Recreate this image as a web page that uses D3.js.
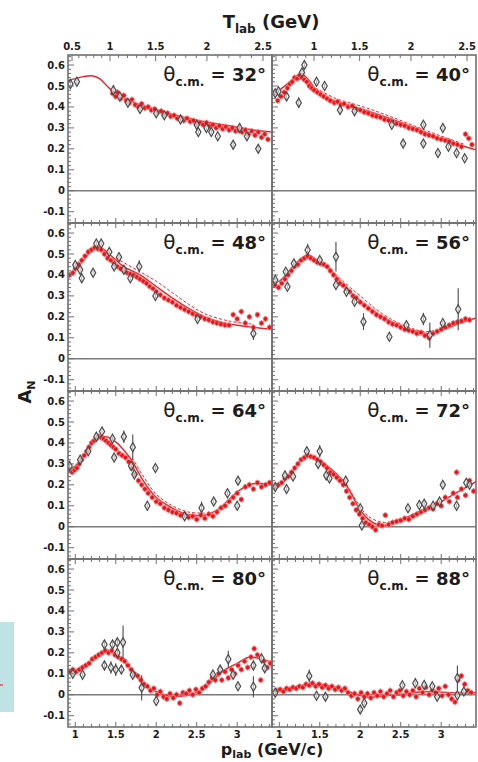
<!DOCTYPE html>
<html>
<head>
<meta charset="utf-8">
<script src="https://cdn.jsdelivr.net/npm/d3@7"></script>
<style>
  body { margin: 0; background: #fff; }
  text { font-family: "DejaVu Sans", sans-serif; font-weight: bold; fill: #1c1c1c; }
</style>
</head>
<body>
<div id="chart"></div>
<script>
// angles of the eight panels
var angles = [32, 40, 48, 56, 64, 72, 80, 88];

// tick labels
var yTickLabels = [0.6, 0.5, 0.4, 0.3, 0.2, 0.1, 0, -0.1];
var pTickLabels = [1, 1.5, 2, 2.5, 3];
var tTickLabels = [0.5, 1, 1.5, 2, 2.5];

// red data (p_lab, A_N), shared error
var redErr = 0.015;
var red32 = [[1.46,0.465],[1.50,0.45],[1.52,0.47],[1.56,0.44],[1.60,0.455],[1.63,0.43],[1.67,0.42],[1.70,0.435],[1.74,0.41],[1.78,0.40],[1.82,0.415],[1.86,0.395],[1.90,0.40],[1.94,0.385],[1.98,0.39],[2.02,0.375],[2.06,0.38],[2.10,0.365],[2.14,0.37],[2.18,0.355],[2.22,0.36],[2.26,0.345],[2.30,0.35],[2.34,0.335],[2.38,0.345],[2.42,0.33],[2.46,0.335],[2.50,0.32],[2.54,0.325],[2.58,0.315],[2.62,0.325],[2.66,0.31],[2.70,0.315],[2.74,0.30],[2.78,0.31],[2.82,0.295],[2.86,0.305],[2.90,0.29],[2.94,0.30],[2.98,0.285],[3.02,0.29],[3.06,0.28],[3.10,0.29],[3.14,0.27],[3.18,0.285],[3.22,0.265],[3.26,0.28],[3.30,0.255],[3.34,0.27],[3.38,0.245]];
var red40 = [[0.98,0.43],[1.02,0.45],[1.06,0.47],[1.10,0.49],[1.13,0.51],[1.16,0.52],[1.19,0.54],[1.22,0.535],[1.25,0.55],[1.28,0.54],[1.31,0.53],[1.34,0.52],[1.37,0.50],[1.40,0.49],[1.43,0.48],[1.47,0.47],[1.51,0.46],[1.55,0.45],[1.59,0.44],[1.63,0.43],[1.68,0.42],[1.72,0.425],[1.76,0.41],[1.80,0.415],[1.85,0.40],[1.90,0.405],[1.95,0.39],[2.00,0.385],[2.05,0.375],[2.10,0.37],[2.15,0.36],[2.20,0.355],[2.25,0.35],[2.30,0.34],[2.35,0.335],[2.40,0.33],[2.45,0.32],[2.50,0.315],[2.55,0.31],[2.60,0.30],[2.65,0.295],[2.70,0.29],[2.75,0.28],[2.80,0.27],[2.85,0.265],[2.90,0.26],[2.95,0.25],[3.00,0.245],[3.05,0.24],[3.10,0.235],[3.15,0.225],[3.20,0.22],[3.25,0.21],[3.30,0.27],[3.34,0.25],[3.38,0.22]];
var red48 = [[0.93,0.40],[0.97,0.41],[1.00,0.43],[1.04,0.45],[1.08,0.47],[1.12,0.49],[1.16,0.51],[1.20,0.52],[1.24,0.53],[1.28,0.525],[1.32,0.52],[1.36,0.50],[1.40,0.48],[1.44,0.47],[1.48,0.455],[1.52,0.44],[1.56,0.43],[1.60,0.42],[1.64,0.41],[1.68,0.405],[1.72,0.40],[1.76,0.39],[1.80,0.38],[1.84,0.37],[1.88,0.36],[1.92,0.345],[1.96,0.335],[2.00,0.32],[2.05,0.305],[2.10,0.29],[2.15,0.28],[2.20,0.27],[2.25,0.255],[2.30,0.245],[2.35,0.235],[2.40,0.225],[2.45,0.215],[2.50,0.205],[2.55,0.20],[2.60,0.19],[2.65,0.185],[2.70,0.175],[2.75,0.17],[2.80,0.165],[2.85,0.16],[2.90,0.16],[2.95,0.21],[3.00,0.19],[3.05,0.225],[3.10,0.17],[3.15,0.20],[3.20,0.15],[3.25,0.21],[3.30,0.17],[3.35,0.19],[3.40,0.15]];
var red56 = [[0.95,0.35],[0.99,0.34],[1.03,0.36],[1.07,0.38],[1.11,0.40],[1.15,0.42],[1.19,0.44],[1.23,0.45],[1.27,0.47],[1.31,0.48],[1.35,0.49],[1.39,0.48],[1.43,0.47],[1.47,0.46],[1.51,0.455],[1.55,0.45],[1.59,0.44],[1.63,0.42],[1.67,0.40],[1.71,0.38],[1.75,0.36],[1.79,0.35],[1.83,0.33],[1.87,0.32],[1.91,0.30],[1.95,0.29],[2.00,0.27],[2.05,0.255],[2.10,0.24],[2.15,0.225],[2.20,0.21],[2.25,0.20],[2.30,0.19],[2.35,0.175],[2.40,0.165],[2.45,0.16],[2.50,0.15],[2.55,0.14],[2.60,0.135],[2.65,0.13],[2.70,0.12],[2.75,0.125],[2.80,0.11],[2.85,0.10],[2.90,0.12],[2.95,0.13],[3.00,0.14],[3.05,0.15],[3.10,0.16],[3.15,0.17],[3.20,0.175],[3.25,0.18],[3.30,0.19],[3.35,0.185]];
var red64 = [[0.93,0.27],[0.96,0.26],[0.99,0.27],[1.02,0.28],[1.05,0.30],[1.08,0.32],[1.11,0.34],[1.14,0.36],[1.17,0.38],[1.20,0.40],[1.23,0.41],[1.26,0.42],[1.29,0.43],[1.32,0.425],[1.35,0.42],[1.38,0.41],[1.41,0.40],[1.44,0.39],[1.47,0.38],[1.50,0.37],[1.54,0.35],[1.58,0.34],[1.62,0.33],[1.66,0.31],[1.70,0.28],[1.74,0.25],[1.78,0.22],[1.82,0.20],[1.86,0.18],[1.90,0.16],[1.95,0.14],[2.00,0.12],[2.05,0.11],[2.10,0.09],[2.15,0.08],[2.20,0.07],[2.25,0.065],[2.30,0.055],[2.35,0.06],[2.40,0.045],[2.45,0.05],[2.50,0.035],[2.55,0.055],[2.60,0.04],[2.65,0.06],[2.70,0.05],[2.75,0.07],[2.80,0.09],[2.85,0.10],[2.90,0.12],[2.95,0.14],[3.00,0.16],[3.05,0.13],[3.10,0.19],[3.15,0.20],[3.20,0.18],[3.25,0.21],[3.30,0.19],[3.35,0.20],[3.40,0.21]];
var red72 = [[0.95,0.19],[0.99,0.20],[1.03,0.21],[1.07,0.23],[1.11,0.24],[1.15,0.26],[1.19,0.28],[1.23,0.30],[1.27,0.32],[1.31,0.33],[1.35,0.34],[1.39,0.335],[1.43,0.33],[1.47,0.32],[1.51,0.31],[1.55,0.295],[1.59,0.28],[1.63,0.26],[1.67,0.25],[1.71,0.235],[1.75,0.22],[1.79,0.20],[1.83,0.17],[1.87,0.14],[1.91,0.11],[1.95,0.08],[1.99,0.06],[2.03,0.04],[2.07,0.02],[2.11,0.01],[2.15,0.0],[2.19,-0.015],[2.23,0.01],[2.27,0.005],[2.31,0.055],[2.35,0.01],[2.40,0.02],[2.45,0.025],[2.50,0.03],[2.55,0.04],[2.60,0.035],[2.65,0.05],[2.70,0.06],[2.75,0.07],[2.80,0.08],[2.85,0.09],[2.90,0.085],[2.95,0.11],[3.00,0.10],[3.05,0.14],[3.10,0.12],[3.15,0.16],[3.19,0.26],[3.20,0.14],[3.25,0.18],[3.30,0.15],[3.35,0.22],[3.40,0.17]];
var red80 = [[0.93,0.11],[0.97,0.12],[1.01,0.11],[1.05,0.12],[1.09,0.13],[1.13,0.14],[1.17,0.15],[1.21,0.17],[1.25,0.18],[1.29,0.19],[1.33,0.20],[1.37,0.21],[1.41,0.20],[1.45,0.21],[1.49,0.19],[1.53,0.18],[1.57,0.17],[1.61,0.16],[1.65,0.14],[1.69,0.12],[1.73,0.10],[1.77,0.09],[1.81,0.07],[1.85,0.05],[1.89,0.04],[1.93,0.02],[1.97,0.03],[2.01,0.0],[2.05,0.015],[2.09,-0.01],[2.13,-0.02],[2.17,0.005],[2.21,-0.015],[2.25,0.0],[2.29,-0.04],[2.33,0.01],[2.37,0.005],[2.41,0.02],[2.45,0.0],[2.49,0.025],[2.53,0.01],[2.57,0.03],[2.61,0.04],[2.65,0.06],[2.69,0.08],[2.73,0.07],[2.77,0.10],[2.81,0.07],[2.85,0.11],[2.89,0.08],[2.93,0.12],[2.97,0.10],[3.01,0.14],[3.05,0.12],[3.09,0.16],[3.13,0.13],[3.17,0.18],[3.21,0.22],[3.25,0.19],[3.29,0.07],[3.33,0.16],[3.37,0.13],[3.41,0.15]];
var red88 = [[0.97,0.02],[1.01,0.025],[1.05,0.015],[1.09,0.03],[1.13,0.025],[1.17,0.035],[1.21,0.03],[1.25,0.04],[1.29,0.035],[1.33,0.05],[1.37,0.045],[1.41,0.055],[1.45,0.04],[1.49,0.05],[1.53,0.035],[1.57,0.045],[1.61,0.03],[1.65,0.04],[1.69,0.025],[1.73,0.035],[1.77,0.02],[1.81,0.03],[1.85,0.01],[1.89,-0.005],[1.93,0.005],[1.97,-0.02],[2.01,0.01],[2.05,-0.01],[2.09,0.005],[2.13,-0.015],[2.17,0.01],[2.21,-0.005],[2.25,0.015],[2.29,-0.01],[2.33,0.005],[2.37,0.02],[2.41,-0.01],[2.45,0.01],[2.49,0.02],[2.53,-0.005],[2.57,0.015],[2.61,0.0],[2.65,0.02],[2.69,-0.01],[2.73,0.03],[2.77,0.01],[2.81,0.035],[2.85,0.0],[2.89,0.02],[2.93,0.01],[2.97,0.03],[3.01,-0.005],[3.05,0.04],[3.09,0.0],[3.13,-0.02],[3.17,-0.035],[3.21,0.07],[3.25,0.09],[3.29,0.05],[3.33,0.02],[3.37,0.01]];

// grey data (p_lab, A_N, error)
var gray32 = [[0.94,0.51,0.01],[1.02,0.52,0.01],[1.47,0.48,0.015],[1.55,0.45,0.01],[1.65,0.42,0.01],[1.80,0.39,0.01],[2.00,0.37,0.01],[2.10,0.36,0.01],[2.30,0.34,0.01],[2.50,0.315,0.01],[2.52,0.28,0.01],[2.62,0.30,0.01],[2.68,0.28,0.01],[2.76,0.26,0.01],[2.95,0.22,0.012],[3.03,0.30,0.015],[3.12,0.26,0.012],[3.26,0.20,0.015]];
var gray40 = [[0.95,0.465,0.01],[0.99,0.475,0.01],[1.09,0.45,0.02],[1.24,0.42,0.025],[1.28,0.565,0.01],[1.31,0.60,0.015],[1.46,0.52,0.01],[1.56,0.50,0.01],[1.75,0.385,0.02],[1.93,0.38,0.01],[2.39,0.315,0.01],[2.53,0.225,0.015],[2.78,0.315,0.01],[2.78,0.225,0.01],[2.96,0.18,0.01],[3.02,0.30,0.01],[3.09,0.21,0.01],[3.19,0.18,0.01],[3.29,0.155,0.01]];
var gray48 = [[1.00,0.447,0.01],[1.06,0.425,0.01],[1.08,0.384,0.02],[1.22,0.41,0.01],[1.26,0.55,0.01],[1.32,0.55,0.01],[1.42,0.51,0.01],[1.48,0.44,0.01],[1.54,0.485,0.01],[1.60,0.425,0.01],[1.68,0.384,0.01],[1.79,0.44,0.03],[1.99,0.30,0.01],[2.51,0.19,0.01],[3.20,0.12,0.03]];
var gray56 = [[0.95,0.376,0.01],[1.08,0.415,0.01],[1.10,0.344,0.01],[1.18,0.455,0.01],[1.35,0.519,0.03],[1.50,0.471,0.01],[1.70,0.487,0.07],[1.70,0.352,0.01],[1.83,0.32,0.01],[1.93,0.272,0.01],[2.04,0.177,0.04],[2.36,0.105,0.01],[2.57,0.16,0.01],[2.78,0.19,0.03],[2.86,0.113,0.06],[3.02,0.17,0.01],[3.21,0.236,0.1]];
var gray64 = [[0.93,0.29,0.01],[1.06,0.32,0.01],[1.16,0.36,0.01],[1.26,0.43,0.01],[1.33,0.455,0.01],[1.46,0.42,0.01],[1.48,0.33,0.01],[1.60,0.43,0.03],[1.71,0.38,0.06],[1.69,0.29,0.01],[1.73,0.25,0.01],[1.99,0.28,0.01],[1.89,0.10,0.01],[2.35,0.05,0.01],[2.56,0.09,0.03],[2.71,0.12,0.01],[2.88,0.16,0.01],[3.01,0.22,0.01],[3.00,0.10,0.01]];
var gray72 = [[0.95,0.19,0.01],[1.09,0.18,0.01],[1.07,0.245,0.01],[1.17,0.24,0.01],[1.34,0.36,0.01],[1.50,0.36,0.03],[1.48,0.30,0.01],[1.58,0.245,0.01],[1.62,0.23,0.01],[1.82,0.22,0.01],[2.00,0.088,0.01],[2.02,0.006,0.01],[2.59,0.088,0.01],[2.73,0.104,0.01],[2.79,0.11,0.01],[2.90,0.10,0.01],[2.98,0.12,0.01],[3.02,0.20,0.01],[3.19,0.10,0.01],[3.31,0.21,0.01],[3.35,0.20,0.01]];
var gray80 = [[0.97,0.10,0.01],[1.09,0.096,0.01],[1.36,0.24,0.02],[1.36,0.14,0.02],[1.46,0.24,0.02],[1.44,0.13,0.03],[1.52,0.25,0.02],[1.52,0.20,0.02],[1.50,0.12,0.03],[1.57,0.12,0.02],[1.59,0.25,0.08],[1.71,0.096,0.01],[1.82,0.033,0.06],[2.00,-0.03,0.01],[2.70,0.096,0.01],[2.79,0.12,0.02],[2.89,0.17,0.04],[2.95,0.096,0.01],[3.01,0.04,0.01],[3.20,0.038,0.05],[3.20,0.14,0.02],[3.30,0.174,0.02],[3.34,0.126,0.02]];
var gray88 = [[0.95,0.01,0.01],[1.37,0.09,0.03],[1.46,-0.005,0.01],[1.57,-0.01,0.02],[2.00,-0.07,0.015],[2.05,-0.04,0.01],[2.52,0.045,0.01],[2.68,0.055,0.01],[2.79,0.047,0.01],[2.89,0.04,0.01],[2.95,-0.01,0.01],[3.20,0.08,0.06],[3.20,-0.003,0.01],[3.28,0.015,0.01]];

// model curves (solid) and alternative (dashed)
var curve32 = [[0.91,0.525],[1.0,0.535],[1.1,0.545],[1.22,0.548],[1.3,0.535],[1.38,0.505],[1.46,0.475],[1.6,0.445],[1.8,0.41],[2.0,0.385],[2.3,0.355],[2.6,0.33],[2.9,0.31],[3.2,0.29],[3.43,0.28]];
var curve40 = [[0.91,0.46],[1.0,0.48],[1.1,0.51],[1.2,0.545],[1.27,0.56],[1.35,0.535],[1.45,0.485],[1.6,0.445],[1.8,0.415],[2.1,0.38],[2.4,0.34],[2.7,0.295],[3.0,0.25],[3.3,0.21],[3.43,0.195]];
var curve48 = [[0.91,0.40],[1.0,0.425],[1.1,0.47],[1.2,0.515],[1.28,0.535],[1.36,0.52],[1.46,0.485],[1.6,0.44],[1.8,0.40],[2.0,0.345],[2.2,0.29],[2.4,0.24],[2.6,0.2],[2.8,0.175],[3.0,0.16],[3.2,0.15],[3.43,0.14]];
var curve56 = [[0.91,0.36],[1.0,0.37],[1.1,0.41],[1.2,0.455],[1.3,0.485],[1.36,0.495],[1.45,0.475],[1.6,0.435],[1.75,0.37],[1.9,0.31],[2.1,0.245],[2.3,0.195],[2.5,0.155],[2.7,0.13],[2.85,0.12],[3.0,0.135],[3.2,0.165],[3.43,0.195]];
var curve64 = [[0.91,0.27],[1.0,0.29],[1.1,0.34],[1.2,0.39],[1.3,0.425],[1.38,0.43],[1.5,0.405],[1.6,0.365],[1.7,0.315],[1.8,0.245],[1.9,0.185],[2.0,0.14],[2.15,0.1],[2.3,0.07],[2.45,0.055],[2.6,0.055],[2.75,0.08],[2.9,0.13],[3.05,0.18],[3.2,0.205],[3.43,0.2]];
var curve72 = [[0.91,0.18],[1.0,0.2],[1.1,0.23],[1.2,0.285],[1.3,0.33],[1.37,0.342],[1.45,0.33],[1.58,0.295],[1.7,0.255],[1.8,0.215],[1.9,0.15],[2.0,0.08],[2.1,0.035],[2.2,0.012],[2.32,0.008],[2.45,0.025],[2.6,0.05],[2.8,0.085],[3.0,0.12],[3.2,0.165],[3.43,0.215]];
var curve80 = [[0.91,0.11],[1.0,0.115],[1.1,0.135],[1.2,0.165],[1.3,0.2],[1.4,0.213],[1.5,0.195],[1.6,0.16],[1.7,0.115],[1.8,0.07],[1.9,0.035],[2.0,0.015],[2.1,0.0],[2.2,-0.008],[2.35,-0.005],[2.5,0.01],[2.6,0.03],[2.7,0.07],[2.85,0.12],[3.0,0.15],[3.15,0.18],[3.3,0.17],[3.43,0.155]];
var curve88 = [[0.91,0.015],[1.1,0.03],[1.3,0.045],[1.5,0.05],[1.7,0.035],[1.9,0.01],[2.1,-0.012],[2.3,-0.005],[2.5,0.0],[2.7,0.012],[2.9,0.015],[3.1,0.01],[3.3,0.008],[3.43,0.01]];
var dash40 = [[1.45,0.49],[1.7,0.44],[2.0,0.405],[2.3,0.365],[2.6,0.32],[2.9,0.275],[3.3,0.22]];
var dash48 = [[1.5,0.48],[1.8,0.415],[2.0,0.37],[2.2,0.315],[2.4,0.26],[2.6,0.215],[2.9,0.18],[3.2,0.165]];
var dash56 = [[1.6,0.44],[1.8,0.365],[2.0,0.3],[2.2,0.235],[2.4,0.185],[2.6,0.15],[2.8,0.13],[3.0,0.14]];
var dash64 = [[1.7,0.33],[1.85,0.235],[2.0,0.155],[2.2,0.1],[2.4,0.07],[2.6,0.065]];
var dash72 = [[1.8,0.225],[1.95,0.125],[2.1,0.05],[2.3,0.02],[2.5,0.04]];

var reds = [red32, red40, red48, red56, red64, red72, red80, red88];
var grays = [gray32, gray40, gray48, gray56, gray64, gray72, gray80, gray88];
var curves = [curve32, curve40, curve48, curve56, curve64, curve72, curve80, curve88];
var dashes = [null, dash40, dash48, dash56, dash64, dash72, null, null];

var svgWidth = 478;
var svgHeight = 762;
var left0 = 68, top0 = 55, panelW = 204, panelH = 168;
var frameColor = "#707070";

var svg = d3.select("#chart")
  .append("svg")
  .attr("width", svgWidth)
  .attr("height", svgHeight);

var x = d3.scaleLinear().domain([0.91, 3.43]).range([0, panelW]);
var y = d3.scaleLinear().domain([-0.154, 0.648]).range([panelH, 0]);
// top axis (kinetic energy) is not linear in p on this figure
var xT = d3.scalePow().exponent(1.35).domain([0.5, 2.5]).range([4, 195]);

var line = d3.line()
  .x(d => x(d[0]))
  .y(d => y(d[1]))
  .curve(d3.curveCatmullRom);

// left light-blue strip from the source page
svg.append("rect")
  .attr("x", 0).attr("y", 622).attr("width", 14).attr("height", 90)
  .attr("fill", "#bfe2e5");
svg.append("line")
  .attr("x1", 0).attr("x2", 3).attr("y1", 685).attr("y2", 685)
  .attr("stroke", "#e03030").attr("stroke-width", 1.2);

svg.append("clipPath").attr("id", "clip")
  .append("rect").attr("width", panelW).attr("height", panelH);

angles.forEach(function (ang, i) {
  var col = i % 2, row = Math.floor(i / 2);
  var g = svg.append("g")
    .attr("transform", `translate(${left0 + col * panelW}, ${top0 + row * panelH})`);
  var plot = g.append("g").attr("clip-path", "url(#clip)");

  // zero line
  plot.append("line")
    .attr("x1", 0).attr("x2", panelW)
    .attr("y1", y(0)).attr("y2", y(0))
    .attr("stroke", "#7a7a7a").attr("stroke-width", 1.3);

  // red error bars
  plot.selectAll(".rbar").data(reds[i]).enter().append("line")
    .attr("x1", d => x(d[0])).attr("x2", d => x(d[0]))
    .attr("y1", d => y(d[1] - redErr)).attr("y2", d => y(d[1] + redErr))
    .attr("stroke", "#f07070").attr("stroke-width", 1);

  // model curves
  plot.append("path").datum(curves[i])
    .attr("d", line).attr("fill", "none")
    .attr("stroke", "#e3262b").attr("stroke-width", 1.4);
  if (dashes[i]) {
    plot.append("path").datum(dashes[i])
      .attr("d", line).attr("fill", "none")
      .attr("stroke", "#e3262b").attr("stroke-width", 1)
      .attr("stroke-dasharray", "3,2");
  }

  plot.selectAll(".rdot").data(reds[i]).enter().append("circle")
    .attr("cx", d => x(d[0])).attr("cy", d => y(d[1]))
    .attr("r", 2.4)
    .attr("fill", "#e8161b")
    .attr("stroke", "#f59090").attr("stroke-width", 0.7);

  // grey error bars + open diamonds
  plot.selectAll(".gbar").data(grays[i]).enter().append("line")
    .attr("x1", d => x(d[0])).attr("x2", d => x(d[0]))
    .attr("y1", d => y(d[1] - d[2])).attr("y2", d => y(d[1] + d[2]))
    .attr("stroke", "#4a4a4a").attr("stroke-width", 1.1);
  plot.selectAll(".gdot").data(grays[i]).enter().append("path")
    .attr("transform", d => `translate(${x(d[0])}, ${y(d[1])})`)
    .attr("d", d3.symbol().type(d3.symbolDiamond).size(24))
    .attr("fill", "#fff").attr("fill-opacity", 0.6)
    .attr("stroke", "#4a4a4a").attr("stroke-width", 1.2);

  // y ticks on the left edge
  d3.range(-7, 33).forEach(function (k) {
    var v = k * 0.02;
    var major = k % 5 === 0;
    g.append("line")
      .attr("x1", 0).attr("x2", major ? 6 : 3)
      .attr("y1", y(v)).attr("y2", y(v))
      .attr("stroke", frameColor).attr("stroke-width", 1);
  });

  // p ticks on bottom edge (and top edge below row 0)
  d3.range(10, 35).forEach(function (k) {
    var v = k / 10;
    var len = (k % 5 === 0) ? 5 : 3;
    g.append("line")
      .attr("x1", x(v)).attr("x2", x(v))
      .attr("y1", panelH).attr("y2", panelH - len)
      .attr("stroke", frameColor).attr("stroke-width", 1);
    if (row > 0) {
      g.append("line")
        .attr("x1", x(v)).attr("x2", x(v))
        .attr("y1", 0).attr("y2", len)
        .attr("stroke", frameColor).attr("stroke-width", 1);
    }
  });

  if (row === 0) {
    d3.range(5, 27).forEach(function (k) {
      var v = k / 10;
      var px = xT(v);
      if (px > panelW) return;
      g.append("line")
        .attr("x1", px).attr("x2", px)
        .attr("y1", 0).attr("y2", (k % 5 === 0) ? 6 : 3)
        .attr("stroke", frameColor).attr("stroke-width", 1);
    });
    tTickLabels.forEach(function (v) {
      if (col === 1 && v === 0.5) return;
      g.append("text")
        .attr("x", xT(v)).attr("y", -5)
        .attr("text-anchor", "middle")
        .style("font-size", "10px")
        .text(v);
    });
  }

  if (row === 3) {
    pTickLabels.forEach(function (v) {
      g.append("text")
        .attr("x", x(v)).attr("y", panelH + 11)
        .attr("text-anchor", "middle")
        .style("font-size", "10px")
        .text(v);
    });
  }

  if (col === 0) {
    yTickLabels.forEach(function (v) {
      g.append("text")
        .attr("x", -3).attr("y", y(v))
        .attr("dy", "0.35em")
        .attr("text-anchor", "end")
        .style("font-size", "10px")
        .text(v);
    });
  }

  // frame
  g.append("rect")
    .attr("width", panelW).attr("height", panelH)
    .attr("fill", "none")
    .attr("stroke", frameColor).attr("stroke-width", 1.6);

  // angle label
  var t = g.append("text")
    .attr("x", panelW - 6).attr("y", 26)
    .attr("text-anchor", "end");
  t.append("tspan").style("font-size", "20px").style("font-weight", "normal").text("θ");
  t.append("tspan").style("font-size", "12px").attr("dy", 5).text("c.m.");
  t.append("tspan").style("font-size", "18px").attr("dy", -5).text(" = " + ang + "°");
});

// axis titles
var tTitle = svg.append("text")
  .attr("x", 271).attr("y", 28)
  .attr("text-anchor", "middle");
tTitle.append("tspan").style("font-size", "18px").text("T");
tTitle.append("tspan").style("font-size", "12px").attr("dy", 5).text("lab");
tTitle.append("tspan").style("font-size", "18px").attr("dy", -5).text(" (GeV)");

var pTitle = svg.append("text")
  .attr("x", 272).attr("y", 755)
  .attr("text-anchor", "middle");
pTitle.append("tspan").style("font-size", "16px").text("p");
pTitle.append("tspan").style("font-size", "11px").attr("dy", 3).text("lab");
pTitle.append("tspan").style("font-size", "16px").attr("dy", -3).text(" (GeV/c)");

var aTitle = svg.append("text")
  .attr("transform", "translate(31, 392) rotate(-90)")
  .attr("text-anchor", "middle");
aTitle.append("tspan").style("font-size", "18px").text("A");
aTitle.append("tspan").style("font-size", "11px").attr("dy", 4).text("N");
</script>
</body>
</html>
